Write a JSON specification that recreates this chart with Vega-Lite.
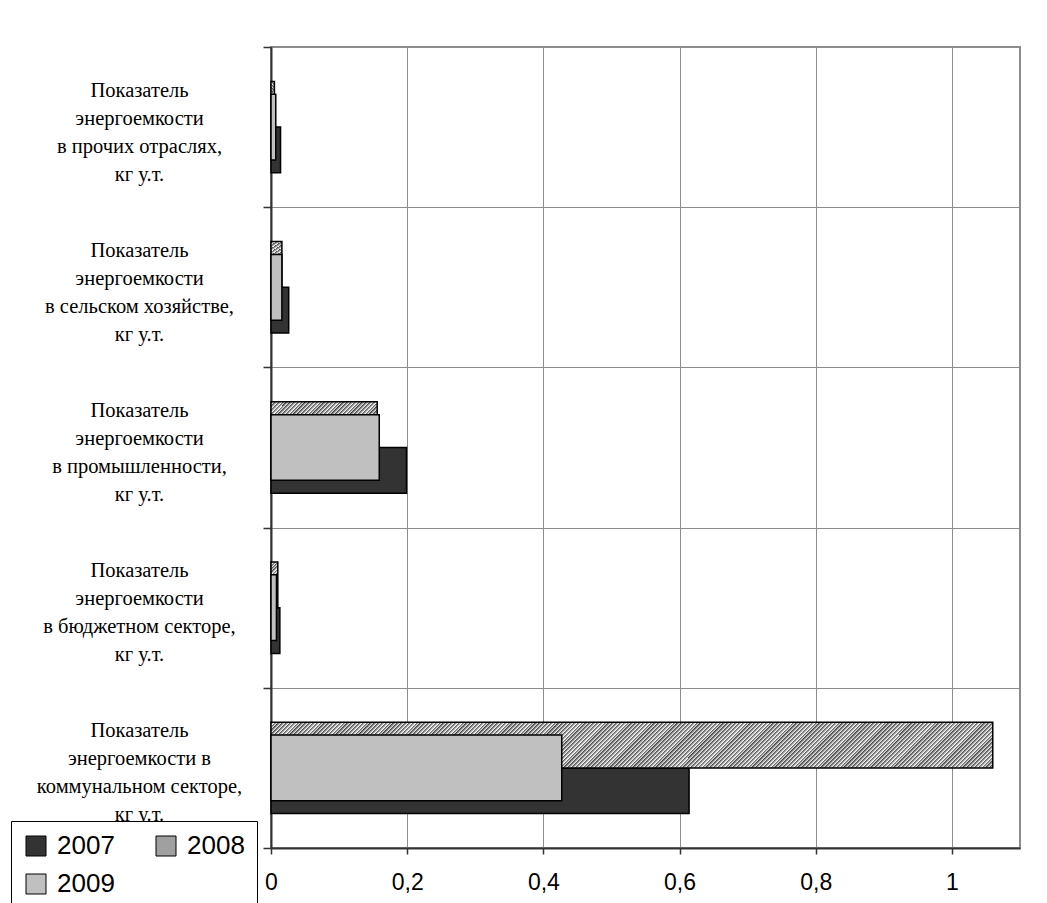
{
"$schema": "https://vega.github.io/schema/vega-lite/v6.json",
"autosize": "none",
"width": 749,
"height": 801,
"padding": {"left": 271, "top": 47, "right": 27, "bottom": 55},
"background": "white",
"data": {"values": [
{"cat": "Показатель энергоемкости в прочих отраслях, кг у.т.", "year": "2007", "value": 0.014},
{"cat": "Показатель энергоемкости в прочих отраслях, кг у.т.", "year": "2008", "value": 0.005},
{"cat": "Показатель энергоемкости в прочих отраслях, кг у.т.", "year": "2009", "value": 0.007},
{"cat": "Показатель энергоемкости в сельском хозяйстве, кг у.т.", "year": "2007", "value": 0.026},
{"cat": "Показатель энергоемкости в сельском хозяйстве, кг у.т.", "year": "2008", "value": 0.016},
{"cat": "Показатель энергоемкости в сельском хозяйстве, кг у.т.", "year": "2009", "value": 0.016},
{"cat": "Показатель энергоемкости в промышленности, кг у.т.", "year": "2007", "value": 0.199},
{"cat": "Показатель энергоемкости в промышленности, кг у.т.", "year": "2008", "value": 0.156},
{"cat": "Показатель энергоемкости в промышленности, кг у.т.", "year": "2009", "value": 0.159},
{"cat": "Показатель энергоемкости в бюджетном секторе, кг у.т.", "year": "2007", "value": 0.013},
{"cat": "Показатель энергоемкости в бюджетном секторе, кг у.т.", "year": "2008", "value": 0.010},
{"cat": "Показатель энергоемкости в бюджетном секторе, кг у.т.", "year": "2009", "value": 0.008},
{"cat": "Показатель энергоемкости в коммунальном секторе, кг у.т.", "year": "2007", "value": 0.614},
{"cat": "Показатель энергоемкости в коммунальном секторе, кг у.т.", "year": "2008", "value": 1.06},
{"cat": "Показатель энергоемкости в коммунальном секторе, кг у.т.", "year": "2009", "value": 0.427}
]},
"layer": [
{
"transform": [{"filter": "datum.year !== '2009'"}],
"mark": {"type": "bar", "stroke": "#000", "strokeWidth": 1.5},
"encoding": {
"y": {"field": "cat", "type": "nominal",
 "scale": {"domain": ["Показатель энергоемкости в прочих отраслях, кг у.т.", "Показатель энергоемкости в сельском хозяйстве, кг у.т.", "Показатель энергоемкости в промышленности, кг у.т.", "Показатель энергоемкости в бюджетном секторе, кг у.т.", "Показатель энергоемкости в коммунальном секторе, кг у.т."], "paddingInner": 0, "paddingOuter": 0},
 "axis": {"title": null, "tickBand": "extent", "grid": true, "gridColor": "#8c8c8c", "gridWidth": 1, "domainColor": "#333", "domainWidth": 2, "tickColor": "#333", "tickSize": 8, "tickWidth": 1.5, "labelFont": "Liberation Serif", "labelFontSize": 20.5, "labelColor": "#000", "labelLineHeight": 28, "labelAlign": "center", "labelBaseline": "middle", "labelPadding": 124, "labelLimit": 0, "labelBound": false, "labelOffset": -37,
  "labelExpr": "!isString(datum.value) ? '' : indexof(datum.value, 'коммунальн') >= 0 ? ['Показатель', 'энергоемкости в', 'коммунальном секторе,', 'кг у.т.'] : ['Показатель', 'энергоемкости', substring(datum.value, 25, length(datum.value) - 8), 'кг у.т.']"
 }},
"yOffset": {"field": "year", "type": "nominal", "scale": {"domain": ["2008", "2007"], "paddingInner": 0, "paddingOuter": 0.753}},
"x": {"field": "value", "type": "quantitative", "scale": {"domain": [0, 1.1], "nice": false},
 "axis": {"title": null, "values": [0, 0.2, 0.4, 0.6, 0.8, 1], "grid": true, "gridColor": "#8c8c8c", "gridWidth": 1, "domainColor": "#333", "domainWidth": 2, "tickColor": "#333", "tickSize": 6, "tickWidth": 1.5, "labelFont": "Liberation Sans", "labelFontSize": 23, "labelColor": "#000", "labelPadding": 17, "labelFlush": false,
  "labelExpr": "replace(format(datum.value, '.1~f'), '.', ',')"}},
"color": {
 "condition": [
  {"test": "datum.year === '2008' && indexof(datum.cat, 'коммунальн') >= 0", "value": {"gradient": "linear", "x1": 0, "y1": 0, "x2": 1.059, "y2": 0.067, "stops": [
{"offset":0,"color":"#444"},
{"offset":0.005,"color":"#fff"},{"offset":0.005,"color":"#444"},{"offset":0.01,"color":"#fff"},{"offset":0.01,"color":"#444"},{"offset":0.015,"color":"#fff"},{"offset":0.015,"color":"#444"},{"offset":0.02,"color":"#fff"},{"offset":0.02,"color":"#444"},{"offset":0.025,"color":"#fff"},{"offset":0.025,"color":"#444"},{"offset":0.03,"color":"#fff"},{"offset":0.03,"color":"#444"},{"offset":0.035,"color":"#fff"},{"offset":0.035,"color":"#444"},{"offset":0.04,"color":"#fff"},{"offset":0.04,"color":"#444"},{"offset":0.045,"color":"#fff"},{"offset":0.045,"color":"#444"},{"offset":0.05,"color":"#fff"},{"offset":0.05,"color":"#444"},
{"offset":0.055,"color":"#fff"},{"offset":0.055,"color":"#444"},{"offset":0.06,"color":"#fff"},{"offset":0.06,"color":"#444"},{"offset":0.065,"color":"#fff"},{"offset":0.065,"color":"#444"},{"offset":0.07,"color":"#fff"},{"offset":0.07,"color":"#444"},{"offset":0.075,"color":"#fff"},{"offset":0.075,"color":"#444"},{"offset":0.08,"color":"#fff"},{"offset":0.08,"color":"#444"},{"offset":0.085,"color":"#fff"},{"offset":0.085,"color":"#444"},{"offset":0.09,"color":"#fff"},{"offset":0.09,"color":"#444"},{"offset":0.095,"color":"#fff"},{"offset":0.095,"color":"#444"},{"offset":0.1,"color":"#fff"},{"offset":0.1,"color":"#444"},
{"offset":0.105,"color":"#fff"},{"offset":0.105,"color":"#444"},{"offset":0.11,"color":"#fff"},{"offset":0.11,"color":"#444"},{"offset":0.115,"color":"#fff"},{"offset":0.115,"color":"#444"},{"offset":0.12,"color":"#fff"},{"offset":0.12,"color":"#444"},{"offset":0.125,"color":"#fff"},{"offset":0.125,"color":"#444"},{"offset":0.13,"color":"#fff"},{"offset":0.13,"color":"#444"},{"offset":0.135,"color":"#fff"},{"offset":0.135,"color":"#444"},{"offset":0.14,"color":"#fff"},{"offset":0.14,"color":"#444"},{"offset":0.145,"color":"#fff"},{"offset":0.145,"color":"#444"},{"offset":0.15,"color":"#fff"},{"offset":0.15,"color":"#444"},
{"offset":0.155,"color":"#fff"},{"offset":0.155,"color":"#444"},{"offset":0.16,"color":"#fff"},{"offset":0.16,"color":"#444"},{"offset":0.165,"color":"#fff"},{"offset":0.165,"color":"#444"},{"offset":0.17,"color":"#fff"},{"offset":0.17,"color":"#444"},{"offset":0.175,"color":"#fff"},{"offset":0.175,"color":"#444"},{"offset":0.18,"color":"#fff"},{"offset":0.18,"color":"#444"},{"offset":0.185,"color":"#fff"},{"offset":0.185,"color":"#444"},{"offset":0.19,"color":"#fff"},{"offset":0.19,"color":"#444"},{"offset":0.195,"color":"#fff"},{"offset":0.195,"color":"#444"},{"offset":0.2,"color":"#fff"},{"offset":0.2,"color":"#444"},
{"offset":0.205,"color":"#fff"},{"offset":0.205,"color":"#444"},{"offset":0.21,"color":"#fff"},{"offset":0.21,"color":"#444"},{"offset":0.215,"color":"#fff"},{"offset":0.215,"color":"#444"},{"offset":0.22,"color":"#fff"},{"offset":0.22,"color":"#444"},{"offset":0.225,"color":"#fff"},{"offset":0.225,"color":"#444"},{"offset":0.23,"color":"#fff"},{"offset":0.23,"color":"#444"},{"offset":0.235,"color":"#fff"},{"offset":0.235,"color":"#444"},{"offset":0.24,"color":"#fff"},{"offset":0.24,"color":"#444"},{"offset":0.245,"color":"#fff"},{"offset":0.245,"color":"#444"},{"offset":0.25,"color":"#fff"},{"offset":0.25,"color":"#444"},
{"offset":0.255,"color":"#fff"},{"offset":0.255,"color":"#444"},{"offset":0.26,"color":"#fff"},{"offset":0.26,"color":"#444"},{"offset":0.265,"color":"#fff"},{"offset":0.265,"color":"#444"},{"offset":0.27,"color":"#fff"},{"offset":0.27,"color":"#444"},{"offset":0.275,"color":"#fff"},{"offset":0.275,"color":"#444"},{"offset":0.28,"color":"#fff"},{"offset":0.28,"color":"#444"},{"offset":0.285,"color":"#fff"},{"offset":0.285,"color":"#444"},{"offset":0.29,"color":"#fff"},{"offset":0.29,"color":"#444"},{"offset":0.295,"color":"#fff"},{"offset":0.295,"color":"#444"},{"offset":0.3,"color":"#fff"},{"offset":0.3,"color":"#444"},
{"offset":0.305,"color":"#fff"},{"offset":0.305,"color":"#444"},{"offset":0.31,"color":"#fff"},{"offset":0.31,"color":"#444"},{"offset":0.315,"color":"#fff"},{"offset":0.315,"color":"#444"},{"offset":0.32,"color":"#fff"},{"offset":0.32,"color":"#444"},{"offset":0.325,"color":"#fff"},{"offset":0.325,"color":"#444"},{"offset":0.33,"color":"#fff"},{"offset":0.33,"color":"#444"},{"offset":0.335,"color":"#fff"},{"offset":0.335,"color":"#444"},{"offset":0.34,"color":"#fff"},{"offset":0.34,"color":"#444"},{"offset":0.345,"color":"#fff"},{"offset":0.345,"color":"#444"},{"offset":0.35,"color":"#fff"},{"offset":0.35,"color":"#444"},
{"offset":0.355,"color":"#fff"},{"offset":0.355,"color":"#444"},{"offset":0.36,"color":"#fff"},{"offset":0.36,"color":"#444"},{"offset":0.365,"color":"#fff"},{"offset":0.365,"color":"#444"},{"offset":0.37,"color":"#fff"},{"offset":0.37,"color":"#444"},{"offset":0.375,"color":"#fff"},{"offset":0.375,"color":"#444"},{"offset":0.38,"color":"#fff"},{"offset":0.38,"color":"#444"},{"offset":0.385,"color":"#fff"},{"offset":0.385,"color":"#444"},{"offset":0.39,"color":"#fff"},{"offset":0.39,"color":"#444"},{"offset":0.395,"color":"#fff"},{"offset":0.395,"color":"#444"},{"offset":0.4,"color":"#fff"},{"offset":0.4,"color":"#444"},
{"offset":0.405,"color":"#fff"},{"offset":0.405,"color":"#444"},{"offset":0.41,"color":"#fff"},{"offset":0.41,"color":"#444"},{"offset":0.415,"color":"#fff"},{"offset":0.415,"color":"#444"},{"offset":0.42,"color":"#fff"},{"offset":0.42,"color":"#444"},{"offset":0.425,"color":"#fff"},{"offset":0.425,"color":"#444"},{"offset":0.43,"color":"#fff"},{"offset":0.43,"color":"#444"},{"offset":0.435,"color":"#fff"},{"offset":0.435,"color":"#444"},{"offset":0.44,"color":"#fff"},{"offset":0.44,"color":"#444"},{"offset":0.445,"color":"#fff"},{"offset":0.445,"color":"#444"},{"offset":0.45,"color":"#fff"},{"offset":0.45,"color":"#444"},
{"offset":0.455,"color":"#fff"},{"offset":0.455,"color":"#444"},{"offset":0.46,"color":"#fff"},{"offset":0.46,"color":"#444"},{"offset":0.465,"color":"#fff"},{"offset":0.465,"color":"#444"},{"offset":0.47,"color":"#fff"},{"offset":0.47,"color":"#444"},{"offset":0.475,"color":"#fff"},{"offset":0.475,"color":"#444"},{"offset":0.48,"color":"#fff"},{"offset":0.48,"color":"#444"},{"offset":0.485,"color":"#fff"},{"offset":0.485,"color":"#444"},{"offset":0.49,"color":"#fff"},{"offset":0.49,"color":"#444"},{"offset":0.495,"color":"#fff"},{"offset":0.495,"color":"#444"},{"offset":0.5,"color":"#fff"},{"offset":0.5,"color":"#444"},
{"offset":0.505,"color":"#fff"},{"offset":0.505,"color":"#444"},{"offset":0.51,"color":"#fff"},{"offset":0.51,"color":"#444"},{"offset":0.515,"color":"#fff"},{"offset":0.515,"color":"#444"},{"offset":0.52,"color":"#fff"},{"offset":0.52,"color":"#444"},{"offset":0.525,"color":"#fff"},{"offset":0.525,"color":"#444"},{"offset":0.53,"color":"#fff"},{"offset":0.53,"color":"#444"},{"offset":0.535,"color":"#fff"},{"offset":0.535,"color":"#444"},{"offset":0.54,"color":"#fff"},{"offset":0.54,"color":"#444"},{"offset":0.545,"color":"#fff"},{"offset":0.545,"color":"#444"},{"offset":0.55,"color":"#fff"},{"offset":0.55,"color":"#444"},
{"offset":0.555,"color":"#fff"},{"offset":0.555,"color":"#444"},{"offset":0.56,"color":"#fff"},{"offset":0.56,"color":"#444"},{"offset":0.565,"color":"#fff"},{"offset":0.565,"color":"#444"},{"offset":0.57,"color":"#fff"},{"offset":0.57,"color":"#444"},{"offset":0.575,"color":"#fff"},{"offset":0.575,"color":"#444"},{"offset":0.58,"color":"#fff"},{"offset":0.58,"color":"#444"},{"offset":0.585,"color":"#fff"},{"offset":0.585,"color":"#444"},{"offset":0.59,"color":"#fff"},{"offset":0.59,"color":"#444"},{"offset":0.595,"color":"#fff"},{"offset":0.595,"color":"#444"},{"offset":0.6,"color":"#fff"},{"offset":0.6,"color":"#444"},
{"offset":0.605,"color":"#fff"},{"offset":0.605,"color":"#444"},{"offset":0.61,"color":"#fff"},{"offset":0.61,"color":"#444"},{"offset":0.615,"color":"#fff"},{"offset":0.615,"color":"#444"},{"offset":0.62,"color":"#fff"},{"offset":0.62,"color":"#444"},{"offset":0.625,"color":"#fff"},{"offset":0.625,"color":"#444"},{"offset":0.63,"color":"#fff"},{"offset":0.63,"color":"#444"},{"offset":0.635,"color":"#fff"},{"offset":0.635,"color":"#444"},{"offset":0.64,"color":"#fff"},{"offset":0.64,"color":"#444"},{"offset":0.645,"color":"#fff"},{"offset":0.645,"color":"#444"},{"offset":0.65,"color":"#fff"},{"offset":0.65,"color":"#444"},
{"offset":0.655,"color":"#fff"},{"offset":0.655,"color":"#444"},{"offset":0.66,"color":"#fff"},{"offset":0.66,"color":"#444"},{"offset":0.665,"color":"#fff"},{"offset":0.665,"color":"#444"},{"offset":0.67,"color":"#fff"},{"offset":0.67,"color":"#444"},{"offset":0.675,"color":"#fff"},{"offset":0.675,"color":"#444"},{"offset":0.68,"color":"#fff"},{"offset":0.68,"color":"#444"},{"offset":0.685,"color":"#fff"},{"offset":0.685,"color":"#444"},{"offset":0.69,"color":"#fff"},{"offset":0.69,"color":"#444"},{"offset":0.695,"color":"#fff"},{"offset":0.695,"color":"#444"},{"offset":0.7,"color":"#fff"},{"offset":0.7,"color":"#444"},
{"offset":0.705,"color":"#fff"},{"offset":0.705,"color":"#444"},{"offset":0.71,"color":"#fff"},{"offset":0.71,"color":"#444"},{"offset":0.715,"color":"#fff"},{"offset":0.715,"color":"#444"},{"offset":0.72,"color":"#fff"},{"offset":0.72,"color":"#444"},{"offset":0.725,"color":"#fff"},{"offset":0.725,"color":"#444"},{"offset":0.73,"color":"#fff"},{"offset":0.73,"color":"#444"},{"offset":0.735,"color":"#fff"},{"offset":0.735,"color":"#444"},{"offset":0.74,"color":"#fff"},{"offset":0.74,"color":"#444"},{"offset":0.745,"color":"#fff"},{"offset":0.745,"color":"#444"},{"offset":0.75,"color":"#fff"},{"offset":0.75,"color":"#444"},
{"offset":0.755,"color":"#fff"},{"offset":0.755,"color":"#444"},{"offset":0.76,"color":"#fff"},{"offset":0.76,"color":"#444"},{"offset":0.765,"color":"#fff"},{"offset":0.765,"color":"#444"},{"offset":0.77,"color":"#fff"},{"offset":0.77,"color":"#444"},{"offset":0.775,"color":"#fff"},{"offset":0.775,"color":"#444"},{"offset":0.78,"color":"#fff"},{"offset":0.78,"color":"#444"},{"offset":0.785,"color":"#fff"},{"offset":0.785,"color":"#444"},{"offset":0.79,"color":"#fff"},{"offset":0.79,"color":"#444"},{"offset":0.795,"color":"#fff"},{"offset":0.795,"color":"#444"},{"offset":0.8,"color":"#fff"},{"offset":0.8,"color":"#444"},
{"offset":0.805,"color":"#fff"},{"offset":0.805,"color":"#444"},{"offset":0.81,"color":"#fff"},{"offset":0.81,"color":"#444"},{"offset":0.815,"color":"#fff"},{"offset":0.815,"color":"#444"},{"offset":0.82,"color":"#fff"},{"offset":0.82,"color":"#444"},{"offset":0.825,"color":"#fff"},{"offset":0.825,"color":"#444"},{"offset":0.83,"color":"#fff"},{"offset":0.83,"color":"#444"},{"offset":0.835,"color":"#fff"},{"offset":0.835,"color":"#444"},{"offset":0.84,"color":"#fff"},{"offset":0.84,"color":"#444"},{"offset":0.845,"color":"#fff"},{"offset":0.845,"color":"#444"},{"offset":0.85,"color":"#fff"},{"offset":0.85,"color":"#444"},
{"offset":0.855,"color":"#fff"},{"offset":0.855,"color":"#444"},{"offset":0.86,"color":"#fff"},{"offset":0.86,"color":"#444"},{"offset":0.865,"color":"#fff"},{"offset":0.865,"color":"#444"},{"offset":0.87,"color":"#fff"},{"offset":0.87,"color":"#444"},{"offset":0.875,"color":"#fff"},{"offset":0.875,"color":"#444"},{"offset":0.88,"color":"#fff"},{"offset":0.88,"color":"#444"},{"offset":0.885,"color":"#fff"},{"offset":0.885,"color":"#444"},{"offset":0.89,"color":"#fff"},{"offset":0.89,"color":"#444"},{"offset":0.895,"color":"#fff"},{"offset":0.895,"color":"#444"},{"offset":0.9,"color":"#fff"},{"offset":0.9,"color":"#444"},
{"offset":0.905,"color":"#fff"},{"offset":0.905,"color":"#444"},{"offset":0.91,"color":"#fff"},{"offset":0.91,"color":"#444"},{"offset":0.915,"color":"#fff"},{"offset":0.915,"color":"#444"},{"offset":0.92,"color":"#fff"},{"offset":0.92,"color":"#444"},{"offset":0.925,"color":"#fff"},{"offset":0.925,"color":"#444"},{"offset":0.93,"color":"#fff"},{"offset":0.93,"color":"#444"},{"offset":0.935,"color":"#fff"},{"offset":0.935,"color":"#444"},{"offset":0.94,"color":"#fff"},{"offset":0.94,"color":"#444"},{"offset":0.945,"color":"#fff"},{"offset":0.945,"color":"#444"},{"offset":0.95,"color":"#fff"},{"offset":0.95,"color":"#444"},
{"offset":0.955,"color":"#fff"},{"offset":0.955,"color":"#444"},{"offset":0.96,"color":"#fff"},{"offset":0.96,"color":"#444"},{"offset":0.965,"color":"#fff"},{"offset":0.965,"color":"#444"},{"offset":0.97,"color":"#fff"},{"offset":0.97,"color":"#444"},{"offset":0.975,"color":"#fff"},{"offset":0.975,"color":"#444"},{"offset":0.98,"color":"#fff"},{"offset":0.98,"color":"#444"},{"offset":0.985,"color":"#fff"},{"offset":0.985,"color":"#444"},{"offset":0.99,"color":"#fff"},{"offset":0.99,"color":"#444"},{"offset":0.995,"color":"#fff"},{"offset":0.995,"color":"#444"},{"offset":1,"color":"#fff"}
  ]}},
  {"test": "datum.year === '2008' && indexof(datum.cat, 'промышленн') >= 0", "value": {"gradient": "linear", "x1": 0, "y1": 0, "x2": 1.207, "y2": 0.519, "stops": [
{"offset":0,"color":"#444"},
{"offset":0.025,"color":"#fff"},{"offset":0.025,"color":"#444"},{"offset":0.05,"color":"#fff"},{"offset":0.05,"color":"#444"},{"offset":0.075,"color":"#fff"},{"offset":0.075,"color":"#444"},{"offset":0.1,"color":"#fff"},{"offset":0.1,"color":"#444"},{"offset":0.125,"color":"#fff"},{"offset":0.125,"color":"#444"},{"offset":0.15,"color":"#fff"},{"offset":0.15,"color":"#444"},{"offset":0.175,"color":"#fff"},{"offset":0.175,"color":"#444"},{"offset":0.2,"color":"#fff"},{"offset":0.2,"color":"#444"},
{"offset":0.225,"color":"#fff"},{"offset":0.225,"color":"#444"},{"offset":0.25,"color":"#fff"},{"offset":0.25,"color":"#444"},{"offset":0.275,"color":"#fff"},{"offset":0.275,"color":"#444"},{"offset":0.3,"color":"#fff"},{"offset":0.3,"color":"#444"},{"offset":0.325,"color":"#fff"},{"offset":0.325,"color":"#444"},{"offset":0.35,"color":"#fff"},{"offset":0.35,"color":"#444"},{"offset":0.375,"color":"#fff"},{"offset":0.375,"color":"#444"},{"offset":0.4,"color":"#fff"},{"offset":0.4,"color":"#444"},
{"offset":0.425,"color":"#fff"},{"offset":0.425,"color":"#444"},{"offset":0.45,"color":"#fff"},{"offset":0.45,"color":"#444"},{"offset":0.475,"color":"#fff"},{"offset":0.475,"color":"#444"},{"offset":0.5,"color":"#fff"},{"offset":0.5,"color":"#444"},{"offset":0.525,"color":"#fff"},{"offset":0.525,"color":"#444"},{"offset":0.55,"color":"#fff"},{"offset":0.55,"color":"#444"},{"offset":0.575,"color":"#fff"},{"offset":0.575,"color":"#444"},{"offset":0.6,"color":"#fff"},{"offset":0.6,"color":"#444"},
{"offset":0.625,"color":"#fff"},{"offset":0.625,"color":"#444"},{"offset":0.65,"color":"#fff"},{"offset":0.65,"color":"#444"},{"offset":0.675,"color":"#fff"},{"offset":0.675,"color":"#444"},{"offset":0.7,"color":"#fff"},{"offset":0.7,"color":"#444"},{"offset":0.725,"color":"#fff"},{"offset":0.725,"color":"#444"},{"offset":0.75,"color":"#fff"},{"offset":0.75,"color":"#444"},{"offset":0.775,"color":"#fff"},{"offset":0.775,"color":"#444"},{"offset":0.8,"color":"#fff"},{"offset":0.8,"color":"#444"},
{"offset":0.825,"color":"#fff"},{"offset":0.825,"color":"#444"},{"offset":0.85,"color":"#fff"},{"offset":0.85,"color":"#444"},{"offset":0.875,"color":"#fff"},{"offset":0.875,"color":"#444"},{"offset":0.9,"color":"#fff"},{"offset":0.9,"color":"#444"},{"offset":0.925,"color":"#fff"},{"offset":0.925,"color":"#444"},{"offset":0.95,"color":"#fff"},{"offset":0.95,"color":"#444"},{"offset":0.975,"color":"#fff"},{"offset":0.975,"color":"#444"},{"offset":1,"color":"#fff"}
  ]}},
  {"test": "datum.year === '2008'", "value": {"gradient": "linear", "x1": 0, "y1": 0, "x2": 0.173, "y2": 1.127, "stops": [
{"offset":0,"color":"#444"},
{"offset":0.0625,"color":"#fff"},{"offset":0.0625,"color":"#444"},{"offset":0.125,"color":"#fff"},{"offset":0.125,"color":"#444"},{"offset":0.1875,"color":"#fff"},{"offset":0.1875,"color":"#444"},{"offset":0.25,"color":"#fff"},{"offset":0.25,"color":"#444"},{"offset":0.3125,"color":"#fff"},{"offset":0.3125,"color":"#444"},{"offset":0.375,"color":"#fff"},{"offset":0.375,"color":"#444"},{"offset":0.4375,"color":"#fff"},{"offset":0.4375,"color":"#444"},{"offset":0.5,"color":"#fff"},{"offset":0.5,"color":"#444"},
{"offset":0.5625,"color":"#fff"},{"offset":0.5625,"color":"#444"},{"offset":0.625,"color":"#fff"},{"offset":0.625,"color":"#444"},{"offset":0.6875,"color":"#fff"},{"offset":0.6875,"color":"#444"},{"offset":0.75,"color":"#fff"},{"offset":0.75,"color":"#444"},{"offset":0.8125,"color":"#fff"},{"offset":0.8125,"color":"#444"},{"offset":0.875,"color":"#fff"},{"offset":0.875,"color":"#444"},{"offset":0.9375,"color":"#fff"},{"offset":0.9375,"color":"#444"},{"offset":1,"color":"#fff"}
  ]}}
 ],
 "field": "year", "type": "nominal",
 "scale": {"domain": ["2007", "2008", "2009"], "range": ["#333333", "#a0a0a0", "#c0c0c0"]},
 "legend": {"orient": "none", "legendX": -260, "legendY": 774, "title": null, "direction": "horizontal", "columns": 2, "symbolType": "square", "symbolSize": 400, "symbolStrokeColor": "#000", "symbolStrokeWidth": 1, "symbolOpacity": 1, "labelFont": "Liberation Sans", "labelFontSize": 26, "labelColor": "#000", "labelOffset": 8, "columnPadding": 38, "rowPadding": 12, "padding": 12, "strokeColor": "#000", "fillColor": "white"}
}
}
},
{
"transform": [{"filter": "datum.year === '2009'"}],
"mark": {"type": "bar", "stroke": "#000", "strokeWidth": 1.5, "height": {"band": 0.41}},
"encoding": {
"y": {"field": "cat", "type": "nominal"},
"x": {"field": "value", "type": "quantitative"},
"color": {"field": "year", "type": "nominal"}
}
}
],
"config": {
"view": {"stroke": "#8c8c8c", "strokeWidth": 2},
"font": "Liberation Sans"
}
}
